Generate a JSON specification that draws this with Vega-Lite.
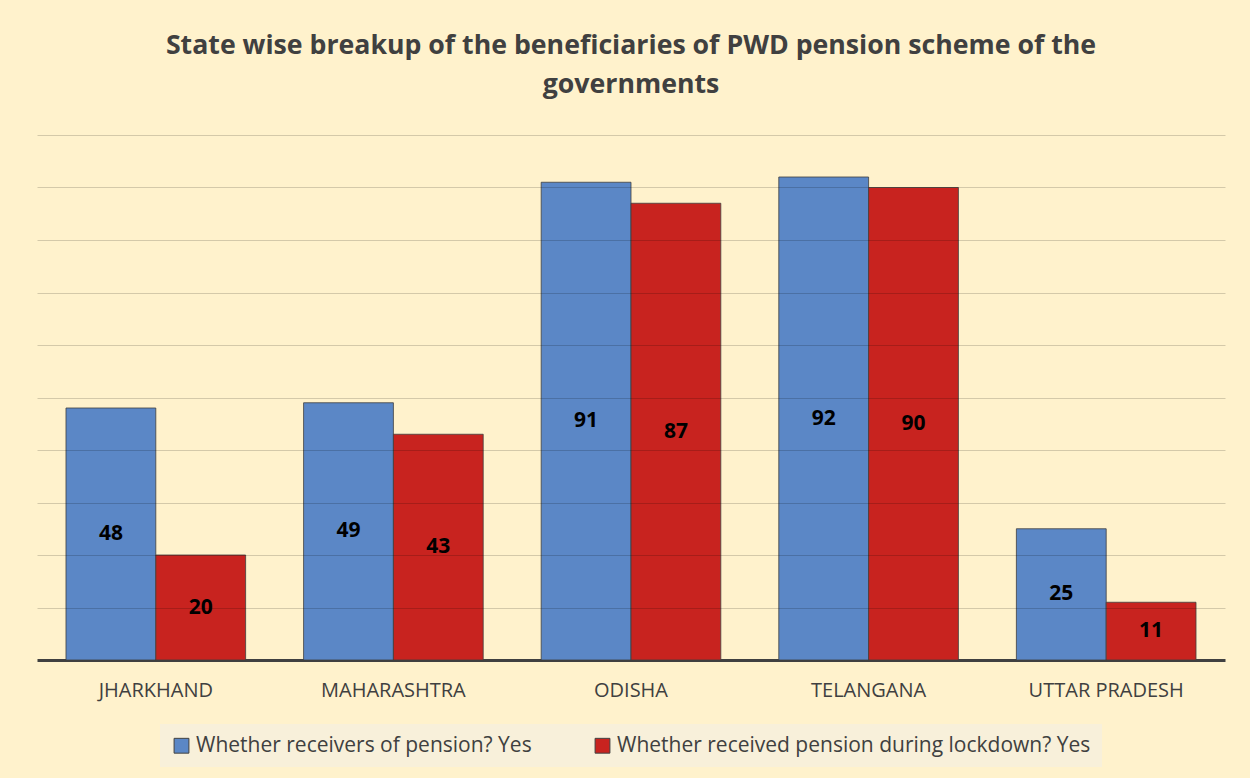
{
  "$schema": "https://vega.github.io/schema/vega-lite/v6.json",
  "width": 1188,
  "height": 525,
  "autosize": {"type": "none"},
  "padding": {"left": 37, "top": 135, "right": 25, "bottom": 118},
  "background": "#FFF2CC",
  "config": {"view": {"stroke": null}, "legend": {"layout": {"bottom": {"anchor": "middle"}}}},
  "title": {
    "text": ["State wise breakup of the beneficiaries of PWD pension scheme of the", "governments"],
    "fontSize": 26.7,
    "font": "Open Sans",
    "fontWeight": "bold",
    "color": "#404040",
    "lineHeight": 39,
    "offset": 36,
    "anchor": "middle"
  },
  "data": {
    "values": [
      {"state": "JHARKHAND", "series": "Whether receivers of pension? Yes", "value": 48},
      {"state": "JHARKHAND", "series": "Whether received pension during lockdown? Yes", "value": 20},
      {"state": "MAHARASHTRA", "series": "Whether receivers of pension? Yes", "value": 49},
      {"state": "MAHARASHTRA", "series": "Whether received pension during lockdown? Yes", "value": 43},
      {"state": "ODISHA", "series": "Whether receivers of pension? Yes", "value": 91},
      {"state": "ODISHA", "series": "Whether received pension during lockdown? Yes", "value": 87},
      {"state": "TELANGANA", "series": "Whether receivers of pension? Yes", "value": 92},
      {"state": "TELANGANA", "series": "Whether received pension during lockdown? Yes", "value": 90},
      {"state": "UTTAR PRADESH", "series": "Whether receivers of pension? Yes", "value": 25},
      {"state": "UTTAR PRADESH", "series": "Whether received pension during lockdown? Yes", "value": 11}
    ]
  },
  "encoding": {
    "x": {
      "field": "state",
      "type": "nominal",
      "sort": null,
      "scale": {"paddingInner": 0.244, "paddingOuter": 0.122},
      "axis": {
        "title": null,
        "labelAngle": 0,
        "ticks": false,
        "domainColor": "#404040",
        "domainWidth": 3,
        "labelFont": "Open Sans",
        "labelFontSize": 20,
        "labelColor": "#404040",
        "labelPadding": 20,
        "grid": false
      }
    },
    "xOffset": {
      "field": "series",
      "type": "nominal",
      "sort": null,
      "scale": {"paddingInner": 0, "paddingOuter": 0}
    }
  },
  "layer": [
    {
      "mark": {"type": "bar", "stroke": "#404040", "strokeWidth": 1, "strokeOpacity": 0.8},
      "encoding": {
        "y": {
          "field": "value",
          "type": "quantitative",
          "scale": {"domain": [0, 100]},
          "axis": {
            "title": null,
            "labels": false,
            "ticks": false,
            "domain": false,
            "values": [10, 20, 30, 40, 50, 60, 70, 80, 90, 100],
            "gridColor": "#000000",
            "gridOpacity": 0.17,
            "zindex": 1
          }
        },
        "color": {
          "field": "series",
          "type": "nominal",
          "sort": null,
          "scale": {"range": ["#5B87C6", "#C8231F"]},
          "legend": {
            "orient": "bottom",
            "direction": "horizontal",
            "title": null,
            "labelFont": "Open Sans",
            "labelFontSize": 21,
            "labelColor": "#404040",
            "labelLimit": 700,
            "symbolType": "square",
            "symbolSize": 220,
            "symbolStrokeColor": "#404040",
            "symbolStrokeWidth": 1,
            "fillColor": "#F8F0DA",
            "padding": 11,
            "offset": 24,
            "columnPadding": 60
          }
        }
      }
    },
    {
      "mark": {"type": "text", "fontWeight": "bold", "fontSize": 21, "font": "Open Sans", "color": "#000000", "baseline": "middle"},
      "encoding": {
        "y": {"field": "value", "type": "quantitative", "scale": {"domain": [0, 200]}, "axis": null},
        "text": {"field": "value", "type": "quantitative"}
      }
    }
  ],
  "resolve": {"scale": {"y": "independent"}}
}
